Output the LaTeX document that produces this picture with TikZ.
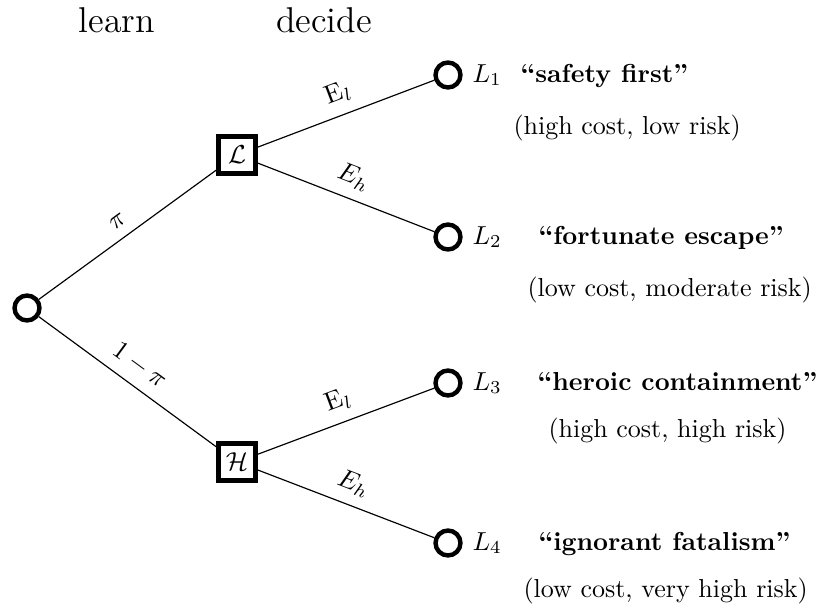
\documentclass[tikz,border=0pt]{standalone}
\usepackage{fontspec}
\begin{document}
\begin{tikzpicture}[x=0.3846pt, y=-0.3846pt,
  chance/.style={circle, draw, line width=1.7pt, minimum size=9.6pt, inner sep=0pt},
  decision/.style={rectangle, draw, line width=1.7pt, minimum size=14.3pt, inner sep=1pt},
  conn/.style={line width=0.45pt},
  elabel/.style={midway, sloped, above, inner sep=4pt},
  header/.style={anchor=base, font=\fontsize{13.8}{16}\selectfont},
  boldname/.style={anchor=base west, font=\bfseries, inner sep=0pt},
  notetext/.style={anchor=base west, inner sep=0pt},
  leaflab/.style={anchor=base west, inner sep=0pt}]
\useasboundingbox (0,0) rectangle (818,603);
\node[header] (learn) at (117,32) {learn};
\node[header] (decide) at (324,32) {decide};

\node[chance] (root) at (27,308) {};
\node[decision] (Lsq) at (237,155) {$\mathcal{L}$};
\node[decision] (Hsq) at (237,462) {$\mathcal{H}$};
\node[chance] (L1) at (448,75) {};
\node[chance] (L2) at (448,237) {};
\node[chance] (L3) at (448,383) {};
\node[chance] (L4) at (448,543) {};

\draw[conn] (root) -- node[elabel] {$\pi$} (Lsq);
\draw[conn] (root) -- node[elabel] {$1-\pi$} (Hsq);
\draw[conn] (Lsq) -- node[elabel] {$\mathrm{E}_l$} (L1);
\draw[conn] (Lsq) -- node[elabel] {$E_h$} (L2);
\draw[conn] (Hsq) -- node[elabel] {$\mathrm{E}_l$} (L3);
\draw[conn] (Hsq) -- node[elabel] {$E_h$} (L4);

\node[leaflab] (t1) at (472,82) {$L_1$};
\node[leaflab] (t2) at (472,244) {$L_2$};
\node[leaflab] (t3) at (472,390) {$L_3$};
\node[leaflab] (t4) at (472,550) {$L_4$};

\node[boldname] (n1) at (520,82) {``safety first''};
\node[notetext] (d1) at (513,134) {(high cost, low risk)};
\node[boldname] (n2) at (538,244) {``fortunate escape''};
\node[notetext] (d2) at (527,296) {(low cost, moderate risk)};
\node[boldname] (n3) at (537,390) {``heroic containment''};
\node[notetext] (d3) at (548,437) {(high cost, high risk)};
\node[boldname] (n4) at (538,550) {``ignorant fatalism''};
\node[notetext] (d4) at (523,597) {(low cost, very high risk)};
\end{tikzpicture}
\end{document}
